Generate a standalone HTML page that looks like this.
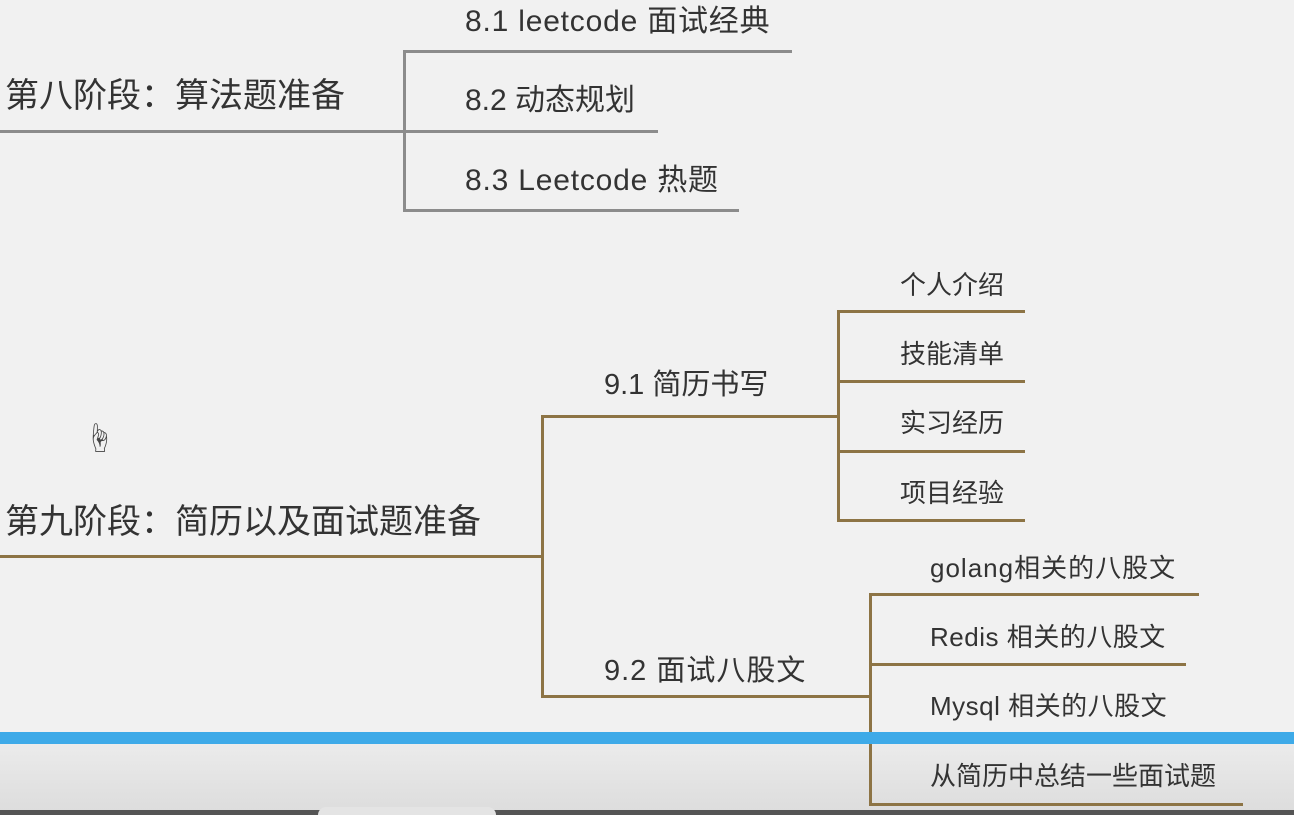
<!DOCTYPE html>
<html><head><meta charset="utf-8"><style>
html,body{margin:0;padding:0}
body{width:1294px;height:815px;position:relative;overflow:hidden;background:#f1f1f1;font-family:"Liberation Sans","Noto Sans CJK SC",sans-serif;color:#333}
.t{position:absolute;white-space:nowrap;line-height:1}
.l{position:absolute;background:#8c8c8c}
.b{position:absolute;background:#8d7445}
</style></head><body>
<div style="position:absolute;left:0;top:744px;width:1294px;height:71px;background:linear-gradient(#ebebeb,#dcdcdc)"></div>
<div class="t" style="left:5px;top:79px;font-size:34px">第八阶段：算法题准备</div>
<div class="l" style="left:0;top:130px;width:405px;height:3px"></div>
<div class="l" style="left:403px;top:50px;width:3px;height:162px"></div>
<div class="l" style="left:403px;top:50px;width:389px;height:3px"></div>
<div class="l" style="left:403px;top:130px;width:255px;height:3px"></div>
<div class="l" style="left:403px;top:209px;width:336px;height:3px"></div>
<div class="t" style="left:465px;top:7px;font-size:30px;letter-spacing:0.8px">8.1 leetcode 面试经典</div>
<div class="t" style="left:465px;top:86px;font-size:30px">8.2 动态规划</div>
<div class="t" style="left:465px;top:166px;font-size:30px;letter-spacing:0.8px">8.3 Leetcode 热题</div>
<div class="t" style="left:5px;top:505px;font-size:34px">第九阶段：简历以及面试题准备</div>
<div class="b" style="left:0;top:555px;width:543px;height:3px"></div>
<div class="b" style="left:541px;top:415px;width:3px;height:283px"></div>
<div class="b" style="left:541px;top:415px;width:298px;height:3px"></div>
<div class="b" style="left:541px;top:695px;width:330px;height:3px"></div>
<div class="t" style="left:604px;top:371px;font-size:29px">9.1 简历书写</div>
<div class="t" style="left:604px;top:657px;font-size:29px;letter-spacing:1px">9.2 面试八股文</div>
<div class="b" style="left:837px;top:310px;width:3px;height:212px"></div>
<div class="b" style="left:837px;top:310px;width:188px;height:3px"></div>
<div class="b" style="left:837px;top:380px;width:188px;height:3px"></div>
<div class="b" style="left:837px;top:450px;width:188px;height:3px"></div>
<div class="b" style="left:837px;top:519px;width:188px;height:3px"></div>
<div class="t" style="left:900px;top:272px;font-size:26px">个人介绍</div>
<div class="t" style="left:900px;top:341px;font-size:26px">技能清单</div>
<div class="t" style="left:900px;top:410px;font-size:26px">实习经历</div>
<div class="t" style="left:900px;top:480px;font-size:26px">项目经验</div>
<div class="b" style="left:869px;top:593px;width:3px;height:212px"></div>
<div class="b" style="left:869px;top:593px;width:330px;height:3px"></div>
<div class="b" style="left:869px;top:663px;width:317px;height:3px"></div>
<div class="b" style="left:869px;top:733px;width:317px;height:3px"></div>
<div class="b" style="left:869px;top:803px;width:374px;height:3px"></div>
<div class="t" style="left:930px;top:555px;font-size:26px;letter-spacing:1px">golang相关的八股文</div>
<div class="t" style="left:930px;top:624px;font-size:26px;letter-spacing:0.5px">Redis 相关的八股文</div>
<div class="t" style="left:930px;top:693px;font-size:26px;letter-spacing:0.5px">Mysql 相关的八股文</div>
<div class="t" style="left:930px;top:763px;font-size:26px">从简历中总结一些面试题</div>
<div class="t" style="left:84px;top:425px;font-size:30px;color:#444">☝</div>
<div style="position:absolute;left:0;top:732px;width:1294px;height:12px;background:#3eaae8"></div>
<div style="position:absolute;left:0;top:810px;width:1294px;height:5px;background:#555"></div>
<div style="position:absolute;left:318px;top:807px;width:178px;height:8px;background:#e4e4e4;border-radius:8px 8px 0 0"></div>
</body></html>
